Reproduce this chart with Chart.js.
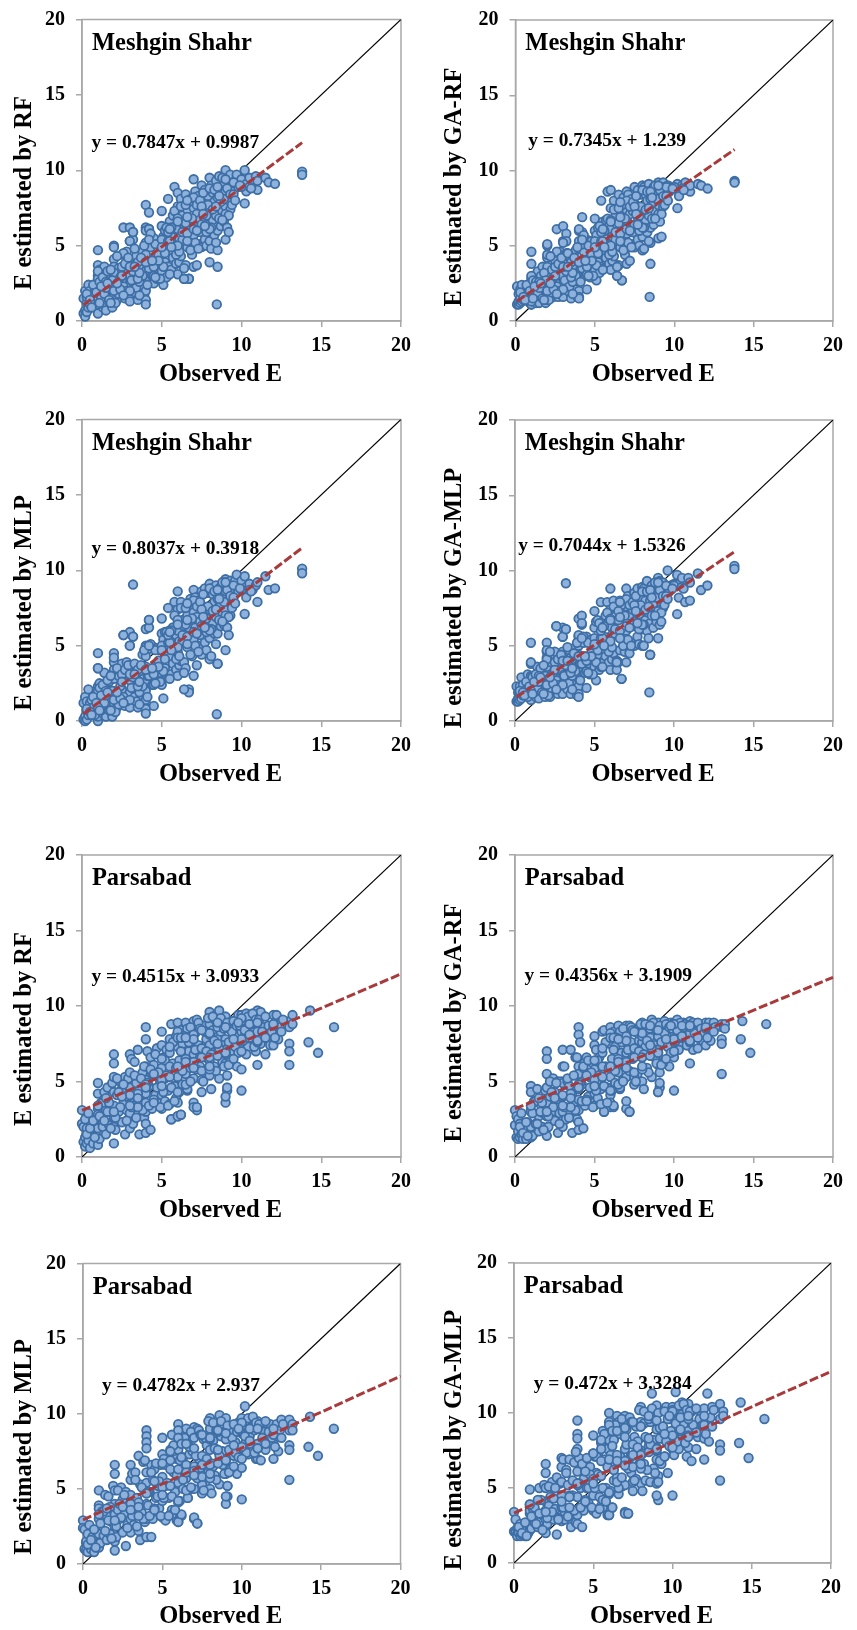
<!DOCTYPE html>
<html>
<head>
    <title>Observed vs estimated E</title>
    <script src="https://cdn.jsdelivr.net/npm/chart.js"></script>
    <style>
        html, body { margin: 0; padding: 0; background: #fff; }
        #page { position: relative; width: 857px; height: 1630px; overflow: hidden; }
        canvas { position: absolute; }
    </style>
</head>
<body>
    <div id="page"></div>

    <script>
        // observed E, same for all four panels of a station
        const observedMeshgin = [
            0.1,0.1,0.2,0.2,0.2,0.3,0.3,0.3,0.4,0.4,0.5,0.5,0.6,0.7,0.8,0.9,1,1,1,1,
            1,1,1,1,1.1,1.2,1.3,1.4,1.5,1.5,1.6,1.7,1.8,1.9,2,2,2,2,2,2,
            2,2,2.1,2.2,2.3,2.4,2.5,2.5,2.6,2.7,2.8,2.9,3,3,3,3,3,3,3,3.1,
            3.2,3.2,3.3,3.4,3.5,3.5,3.6,3.7,3.8,3.9,4,4,4,4,4,4,4,4,4,4.1,
            4.2,4.2,4.3,4.4,4.5,4.5,4.6,4.7,4.8,4.9,5,5,5,5,5.1,5.1,5.2,5.2,5.3,5.3,
            5.4,5.4,5.5,5.5,5.6,5.6,5.7,5.7,5.8,5.8,5.9,5.9,6,6,6,6,6,6.1,6.1,6.2,
            6.2,6.3,6.3,6.4,6.4,6.5,6.5,6.6,6.6,6.7,6.7,6.8,6.8,6.9,7,7,7,7,7.1,7.1,
            7.2,7.2,7.3,7.3,7.4,7.4,7.5,7.5,7.6,7.6,7.7,7.7,7.8,7.8,7.9,7.9,8,8,8,8,
            8.1,8.1,8.2,8.2,8.3,8.3,8.4,8.4,8.5,8.5,8.6,8.6,8.7,8.7,8.8,8.8,8.9,8.9,9,9,
            9,9,9.1,9.1,9.2,9.2,9.3,9.3,9.4,9.5,9.6,9.7,9.8,10,10.2,10.2,10.3,10.3,10.5,10.7,
            10.9,11,11,11.5,11.7,12.1,13.8,13.8,8.45,8.5,3.2,6.7,6.4,2.6,3,3.2,4,4.2,1,2,
            0.3,0.5,0.7,0.8,0.9,1.1,1.2,1.3,1.4,1.5,1.6,1.7,1.8,1.9,2.1,2.2,2.3,2.4,2.5,2.6,
            2.7,2.8,2.9,3.1,3.2,3.3,3.4,3.5,3.6,3.7,3.8,3.9,4.1,4.2,4.3,4.4,4.5,4.6,4.7,4.8,
            4.9,5,5.1,5.2,5.3,5.4,5.5,5.6,5.7,5.8,5.9,6,6.1,6.2,6.3,6.4,6.5,6.6,6.7,6.8,
            6.9,7,7.1,7.2,7.3,7.4,7.5,7.6,7.7,7.8,7.9,8,8.1,8.2,8.3,8.4,8.5,8.6,8.7,8.8,
            8.9,9,9.1,9.2,9.3,9.4,9.5,1,1.5,2,2.5,3,3.5,4,4.5,5,5.5,6,6.5,7,
            7.5,8,8.5,9,9.5,10,10.5,1.2,1.8,2.4,3,3.6,4.2,4.8,5.4,6,6.6,7.2,7.8,8.4,
            0.6,1.1,2.2,3.3,4.4,5.5,6.6,7.7,8.8,9.9,1.6,2.6,3.6,4.6,5.6,6.6,7.6,8.6,9.6,10.6
        ];
        const meshginRF = [
            0.5,1.5,0.3,0.7,2.0,0.6,1.2,1.6,2.4,0.9,2.0,1.1,1.6,1.3,2.2,0.8,4.7,0.6,2.4,3.7,
            3.0,1.4,2.8,0.5,3.4,2.0,0.9,3.6,0.7,2.9,1.6,3.1,2.3,0.9,5.0,4.1,3.1,2.4,1.3,1.7,
            4.9,3.6,2.2,1.4,3.5,1.8,4.4,2.7,6.2,1.5,4.6,3.4,6.2,5.3,4.1,3.0,2.4,1.6,1.3,3.7,
            5.9,2.6,1.9,4.3,3.1,1.4,3.7,2.3,4.6,1.7,7.7,6.2,5.2,4.4,3.3,2.7,2.0,1.4,1.1,3.8,
            7.2,6.1,4.9,3.0,5.5,2.5,4.2,3.4,5.1,3.7,7.3,6.3,4.3,3.3,5.6,2.4,6.0,3.9,4.8,2.9,
            8.1,3.6,6.6,4.6,5.6,3.4,7.0,4.2,8.9,5.0,6.3,3.8,8.5,7.6,6.1,4.9,3.1,5.5,3.9,8.1,
            4.3,7.0,5.4,6.1,2.8,8.4,3.7,7.4,4.9,6.4,2.8,8.1,5.6,4.4,9.4,7.5,5.7,3.6,8.6,6.4,
            7.1,3.7,8.3,5.1,6.7,5.9,9.0,4.9,7.8,6.2,8.7,5.4,7.2,5.0,8.3,6.5,9.5,7.4,5.3,3.9,
            9.0,4.8,8.5,6.7,7.9,5.7,9.3,7.0,6.0,4.7,9.6,7.7,8.8,6.3,8.2,7.3,9.2,6.6,10,8.6,
            7.6,5.4,9.4,6.2,8.0,5.9,9.7,7.4,9.0,8.6,9.3,9.7,8.9,9.4,10,7.8,9.1,8.6,9.5,9.1,
            9.6,8.7,9.3,9.5,9.2,9.1,9.9,9.7,1.1,3.6,5.4,2.8,2.8,4.5,5.3,5.9,6.0,6.1,3.3,3.2,
            1.8,1.4,2.4,1.1,1.9,2.6,1.5,2.9,1.8,2.2,3.3,1.4,3.4,2.7,1.2,4.3,1.8,2.9,3.6,2.3,
            3.8,2.0,4.2,2.7,3.3,4.8,2.2,3.9,2.6,4.2,3.0,5.0,2.4,3.5,5.8,4.0,3.0,5.1,2.8,4.4,
            2.8,5.4,3.6,4.5,6.2,5.3,3.1,6.2,5.0,7.3,4.4,6.8,4.6,7.6,5.9,3.5,6.5,5.8,7.9,4.7,
            6.8,8.2,5.2,7.7,4.8,8.0,6.4,8.5,6.9,5.9,7.7,8.8,6.2,7.4,8.7,5.2,8.2,6.8,7.9,9.5,
            8.1,7.1,8.8,7.0,8.4,7.7,9.2,1.1,2.6,2.0,3.0,3.6,2.8,3.9,3.6,4.9,5.3,5.0,7.7,6.1,
            7.6,6.1,8.9,9.4,8.4,8.9,8.9,2.3,1.2,2.1,2.0,3.2,5.4,4.0,5.9,6.6,5.3,6.0,7.0,7.6,
            0.9,1.2,2.5,3.6,4.0,6.1,8.0,6.3,6.7,9.0,2.5,1.7,1.7,2.9,4.9,6.9,7.1,8.3,8.0,8.8
        ];
        const meshginGARF = [
            1.1,2.3,1.1,1.3,1.8,1.2,1.5,2.1,2.4,1.3,1.9,1.4,1.7,1.5,2.2,1.2,4.6,1.1,2.5,3.8,
            2.8,1.5,2.2,1.1,3.0,1.8,1.2,3.3,1.2,2.7,1.7,3.6,2.4,1.2,5.0,4.2,3.2,2.5,1.4,1.9,
            5.1,3.6,2.2,1.5,3.4,1.6,4.0,2.6,6.1,1.6,4.6,3.3,6.3,5.3,4.0,3.0,2.3,1.7,1.6,3.8,
            5.8,2.7,2.0,4.3,3.1,1.5,3.6,2.2,4.7,1.6,6.0,5.3,4.8,4.0,3.2,2.6,2.0,1.6,1.5,3.5,
            6.9,5.9,4.6,3.0,5.4,2.1,4.1,3.3,5.3,3.8,6.8,6.0,4.2,3.4,5.7,2.7,6.2,3.9,4.8,3.2,
            8.0,3.6,6.6,4.5,5.5,3.5,6.7,4.2,8.6,5.0,6.3,3.8,8.7,7.5,6.1,4.9,3.4,5.6,4.0,8.0,
            4.3,7.0,5.4,6.4,3.0,8.4,3.7,7.3,4.9,6.6,2.7,8.2,5.7,4.4,8.6,7.4,5.8,3.8,8.4,6.5,
            7.1,4.0,8.1,5.1,7.3,5.9,8.9,4.9,7.7,6.2,8.7,5.4,7.2,5.0,8.4,6.5,9.0,7.4,5.6,4.7,
            8.9,4.8,8.4,6.7,8.0,5.9,9.1,7.0,6.2,5.2,8.7,7.7,8.9,6.4,8.4,7.3,9.0,6.8,9.2,8.6,
            7.7,5.5,9.0,6.6,8.2,5.6,9.2,7.6,8.9,8.7,9.0,8.6,8.9,8.8,9.1,7.5,8.8,8.3,9.0,9.2,
            8.8,8.6,9.0,9.1,9.0,8.8,9.3,9.2,1.6,3.8,5.3,2.7,3.0,4.6,5.2,4.5,6.1,5.1,3.0,4.4,
            1.9,1.6,2.4,1.4,2.0,2.7,1.6,2.6,1.9,2.2,3.0,1.5,3.2,2.7,1.4,4.3,1.9,2.9,3.6,2.3,
            3.8,2.0,4.2,2.7,3.3,4.5,2.3,3.9,2.6,4.2,3.0,4.9,2.6,3.5,5.7,4.0,3.1,5.0,2.9,4.4,
            3.0,5.3,3.7,4.5,6.3,5.3,3.4,6.0,5.0,6.8,4.4,6.7,4.6,7.4,5.9,3.6,6.5,5.8,7.7,4.7,
            6.8,8.0,5.2,7.6,4.9,7.9,6.4,8.3,6.9,6.0,7.6,8.7,6.2,7.4,8.6,5.3,8.1,6.8,7.9,9.0,
            8.1,7.1,8.7,7.1,8.3,7.7,8.9,1.3,2.6,2.0,3.0,3.6,2.9,3.9,3.6,4.9,5.3,5.0,7.5,6.1,
            7.6,6.2,8.6,9.0,8.3,8.9,8.8,2.3,1.4,2.1,2.1,3.2,5.4,4.0,5.9,6.6,5.3,6.0,7.0,7.5,
            1.4,1.5,2.5,3.6,4.0,6.1,7.9,6.4,6.8,8.8,2.5,1.8,1.8,3.0,4.9,6.9,7.1,8.2,8.0,8.7
        ];
        const meshginMLP = [
            0.1,1.2,0,0.3,1.6,0.1,0.7,1.3,2.1,0.4,1.2,0.6,1.4,0.9,1.7,0.5,4.5,0,1.8,3.5,
            2.3,1.0,2.0,0.3,2.5,1.3,0.5,3.2,0.3,2.3,0.9,2.6,1.7,0.3,4.5,3.9,2.8,2.0,0.8,1.2,
            4.2,3.2,1.6,0.9,3.0,1.3,3.8,2.1,5.7,1.0,3.9,2.9,5.9,5.0,3.7,2.7,1.9,1.2,0.9,3.2,
            5.6,2.2,1.6,3.6,2.7,0.9,3.3,1.7,4.4,1.2,6.1,5.0,4.3,3.6,2.6,2.0,1.4,0.8,0.5,3.0,
            6.7,6.2,4.8,2.4,4.9,1.0,3.6,2.9,4.7,3.2,6.8,5.8,4.0,2.4,5.4,1.5,5.9,3.5,4.5,2.9,
            7.5,3.0,6.0,4.2,5.5,3.1,6.2,3.8,7.9,4.8,5.7,3.4,8.6,7.4,6.0,4.6,3.0,5.3,3.7,7.9,
            4.0,6.7,5.3,6.3,3.9,7.6,3.5,7.0,4.9,6.2,2.1,8.1,5.6,4.3,8.7,7.2,5.4,3.0,8.2,6.2,
            6.9,3.7,8.0,5.0,6.6,5.7,8.6,4.4,7.6,6.1,8.8,5.2,7.1,4.7,8.5,6.3,9.1,7.4,5.5,4.1,
            8.8,4.3,8.4,6.5,7.9,5.8,9.0,6.9,5.8,3.8,8.8,7.6,8.9,6.3,8.2,7.2,9.2,6.4,9.4,8.6,
            7.4,4.7,9.0,6.2,7.9,5.7,9.3,7.0,8.6,7.9,9.3,9.7,8.6,9.3,9.6,7.1,8.9,8.2,9.1,8.7,
            9.0,7.9,9.2,9.6,8.7,8.8,10.1,9.8,0.45,3.8,9.05,1.9,2.1,5.7,5.0,5.6,4.9,6.7,3.5,3.4,
            0.8,0.6,1.6,0.4,1.2,2.2,0.7,2.4,1.2,1.7,2.7,0.7,3.0,2.0,0.6,3.5,1.1,2.3,3.1,1.6,
            3.4,1.3,3.7,2.2,2.9,3.8,1.3,3.4,1.9,3.7,2.3,4.7,1.6,3.0,5.1,3.3,2.4,4.7,2.6,4.0,
            2.6,5.0,3.3,4.1,5.9,5.2,2.8,6.0,4.7,7.0,4.1,6.7,4.3,7.5,5.7,3.2,6.4,5.6,7.8,4.4,
            6.8,8.0,5.0,7.6,4.6,7.9,6.3,8.4,6.8,5.9,7.6,8.8,6.1,7.3,8.6,5.1,8.1,6.7,7.8,9.2,
            7.9,7.0,8.7,6.9,8.3,7.5,9.0,0.9,2.0,1.4,2.6,3.1,2.3,3.4,3.1,4.7,5.2,4.9,7.5,5.9,
            7.4,6.0,8.7,9.2,8.2,8.7,8.7,1.7,0.7,1.5,1.4,2.6,5.0,3.6,5.7,6.4,5.1,5.8,6.8,7.4,
            0.4,0.7,1.9,3.1,3.5,5.9,7.8,6.2,6.6,8.8,1.9,1.2,1.1,2.5,4.7,6.7,6.9,8.1,7.8,8.6
        ];
        const meshginGAMLP = [
            1.3,2.3,1.3,1.5,1.9,1.4,1.8,2.3,2.9,1.5,2.4,1.7,2.0,1.8,3.1,1.6,5.2,1.5,2.7,3.8,
            3.0,1.8,2.6,1.4,3.0,2.0,1.6,3.6,1.5,3.0,2.0,3.5,2.4,1.6,5.2,4.6,3.6,2.8,1.8,2.2,
            4.7,4.2,2.4,1.6,3.9,2.3,4.6,3.0,6.3,1.8,3.9,3.4,6.2,5.6,4.6,3.3,2.5,2.1,1.8,3.1,
            6.1,3.0,2.1,4.7,3.5,1.8,4.1,2.6,4.9,1.7,6.8,5.6,5.0,4.4,3.5,2.8,2.3,1.8,1.6,3.8,
            7.0,6.4,5.2,3.2,5.6,2.2,4.3,3.5,5.4,4.0,7.3,6.2,4.9,3.6,6.6,2.7,6.7,4.4,5.5,3.4,
            7.9,3.6,6.6,4.8,5.6,3.9,7.0,4.3,7.9,5.1,6.6,3.9,8.8,7.4,6.3,5.0,3.4,5.7,4.1,8.0,
            4.5,7.5,5.8,6.7,4.0,7.3,3.9,8.0,4.7,6.9,2.8,7.4,5.8,4.6,8.8,7.6,6.0,3.9,8.3,6.6,
            7.0,4.5,7.9,5.2,7.4,6.3,8.5,5.0,7.8,6.4,8.8,5.6,7.4,5.1,8.2,6.6,8.9,7.6,6.1,5.0,
            8.8,5.0,8.0,6.7,9.3,6.0,8.5,7.2,6.5,4.4,9.0,7.9,8.7,6.2,8.5,7.1,9.2,6.6,9.5,8.4,
            7.9,5.5,9.3,6.4,8.8,6.6,9.2,7.5,8.8,8.2,10,8.6,9.0,9.1,9.7,7.1,9.1,8.2,9.5,7.9,
            9.5,8.0,9.2,9.8,8.7,9.0,10.3,10.1,1.9,4.4,9.15,2.8,3.4,6.3,5.6,6.1,5.7,6.5,3.9,4.1,
            2.0,1.9,2.6,1.6,2.3,2.9,1.9,3.1,2.2,2.6,3.5,1.9,3.7,3.0,1.7,4.6,2.2,3.2,3.9,2.7,
            4.1,2.4,4.4,3.0,3.7,4.9,2.5,4.2,3.0,4.5,3.3,5.2,2.7,3.8,5.6,4.2,3.3,5.2,3.1,4.5,
            3.1,5.5,3.9,4.7,6.5,5.5,3.6,6.3,5.2,7.2,4.6,6.8,4.9,7.6,6.1,3.9,6.7,6.0,7.7,5.0,
            7.0,8.1,5.4,7.7,5.0,7.9,6.6,8.3,7.1,6.1,7.7,8.6,6.4,7.4,8.6,5.5,8.0,7.0,7.8,9.2,
            8.2,7.3,8.7,7.2,8.3,7.7,9.0,2.0,3.0,2.4,3.4,4.0,3.2,4.3,4.0,5.1,5.5,5.3,7.3,6.3,
            7.7,6.4,8.7,9.2,8.3,9.0,8.9,2.6,1.8,2.5,2.4,3.5,5.5,4.3,6.0,6.7,5.5,6.2,7.1,7.6,
            1.7,1.8,2.9,4.0,4.3,6.2,7.9,6.5,7.0,8.8,2.9,2.1,2.1,3.2,5.0,6.9,7.3,8.2,8.1,8.8
        ];

        const observedParsabad = [
            0,0,0.1,0.1,0.2,0.2,0.2,0.3,0.3,0.4,0.4,0.5,0.6,0.7,0.8,0.9,1,1,1,1,
            1,1,1.1,1.2,1.3,1.4,1.5,1.5,1.6,1.7,1.8,1.9,2,2,2,2,2,2,2,2,
            2.1,2.2,2.3,2.4,2.5,2.5,2.6,2.7,2.7,2.8,2.9,3,3,3,3,3,3,3,3.1,3.2,
            3.2,3.3,3.4,3.5,3.5,3.6,3.6,3.7,3.8,3.9,4,4,4,4,4,4,4,4,4,4.1,
            4.2,4.3,4.3,4.4,4.4,4.5,4.6,4.7,4.8,4.9,5,5,5,5,5,5.1,5.2,5.2,5.3,5.4,
            5.5,5.5,5.6,5.6,5.7,5.8,5.9,5.9,6,6,6,6,6,6.1,6.2,6.2,6.3,6.3,6.4,6.5,
            6.5,6.6,6.6,6.7,6.8,6.9,7,7,7,7,7.1,7.2,7.2,7.3,7.4,7.5,7.6,7.7,7.8,7.9,
            8,8,8,8,8.1,8.2,8.2,8.3,8.4,8.5,8.6,8.6,8.7,8.8,8.9,9,9,9,9,9.1,
            9.1,9.2,9.3,9.4,9.5,9.6,9.7,9.8,9.9,10,10,10,10,10.1,10.2,10.2,10.3,10.4,10.5,10.6,
            10.7,10.8,10.9,11,11,11,11.2,11.2,11.4,11.5,11.6,11.8,12,12,12,12.1,12.2,12.3,12.5,13,
            13,13,13,13,13.2,13.2,14.2,14.3,14.8,15.8,8,7.5,7,7.2,5.6,6,6.2,9.1,9,8.9,
            0.3,0.5,0.7,0.8,1.1,1.3,1.4,1.6,1.7,1.8,2.1,2.2,2.3,2.4,2.6,2.8,2.9,3.1,3.3,3.4,
            3.5,3.7,3.8,3.9,4.1,4.2,4.3,4.5,4.6,4.7,4.8,4.9,5.1,5.2,5.3,5.4,5.5,5.6,5.7,5.8,
            5.9,6,6.1,6.2,6.3,6.4,6.5,6.6,6.7,6.8,6.9,7,7.1,7.2,7.3,7.4,7.5,7.6,7.7,7.8,
            7.9,8,8.1,8.2,8.3,8.4,8.5,8.6,8.7,8.8,8.9,9,9.1,9.2,9.3,9.4,9.5,9.6,9.7,9.8,
            9.9,10,10.1,10.2,10.3,10.4,10.5,10.6,10.7,10.8,10.9,11,11.1,11.3,11.5,11.7,11.9,12.1,12.4,12.6,
            1,2,3,4,5,6,7,8,9,10,11,12,1.5,2.5,3.5,4.5,5.5,6.5,7.5,8.5,
            5,5.5,6,6.5,7,7.5,8,8.5,9,9.5,10,10.5,11,6.2,6.8,7.4,8,8.6,9.2,9.8,
            3,3.5,4,4.5,5,5.5,6,6.5,7,7.5,8,8.5,9,9.5,10,10.5,11,11.5,12,12.5
        ];
        const parsabadRF = [
            3.1,2.2,1.0,2.0,2.5,0.7,1.3,1.9,0.9,1.1,2.9,0.6,1.7,0.9,2.4,1.4,4.9,0.8,3.2,1.9,
            4.2,2.8,1.2,3.6,2.0,4.3,1.5,3.1,4.6,2.1,3.0,4.9,6.8,6.2,5.3,4.3,3.4,2.6,2.0,0.9,
            1.8,4.1,3.0,5.0,2.3,4.5,3.6,1.5,5.3,3.1,5.2,6.8,5.6,4.6,3.8,2.9,2.3,1.9,6.5,3.4,
            2.2,6.3,4.9,7.1,2.8,4.4,1.5,3.5,5.6,2.6,8.6,7.8,6.0,5.1,4.2,3.6,3.0,2.2,1.6,7.0,
            4.7,6.6,1.8,5.5,3.2,6.1,4.1,7.2,3.7,5.0,8.3,7.4,5.9,4.1,3.2,6.6,5.2,3.7,7.1,4.4,
            7.8,3.5,8.8,2.5,6.2,4.7,8.0,3.9,8.9,7.3,5.3,3.6,2.7,6.4,8.4,2.8,4.8,7.5,6.0,8.9,
            5.5,8.5,4.4,7.0,5.9,7.6,9.0,6.8,5.2,3.6,8.2,9.1,3.1,7.4,6.0,4.3,8.7,5.5,7.8,6.5,
            9.6,8.8,7.4,5.4,4.5,6.9,8.4,6.0,9.0,7.8,9.7,5.2,8.3,6.3,7.3,9.3,7.8,6.2,3.6,4.4,
            5.4,8.5,6.6,9.0,7.0,8.1,6.0,9.4,7.6,9.4,8.3,5.8,4.4,7.2,9.1,8.0,9.5,7.3,8.6,9.2,
            7.9,8.6,7.0,9.7,8.3,6.1,9.6,7.5,8.6,6.8,8.0,7.4,9.4,8.1,7.4,8.9,9.4,7.8,9.0,9.0,
            8.6,7.5,7.0,6.1,9.4,8.8,7.6,9.7,6.9,8.6,6.4,5.1,3.3,3.3,2.5,2.7,2.8,4.6,4.0,6.0,
            1.5,1.9,2.4,1.3,2.7,3.6,2.4,3.0,3.6,1.9,2.6,5.2,4.3,3.3,4.8,2.4,4.0,3.3,5.4,2.6,
            4.2,5.2,3.1,6.0,4.9,3.4,5.8,3.8,6.8,4.6,5.6,3.3,4.3,6.4,5.4,3.4,6.0,4.6,7.6,3.7,
            5.9,8.3,4.3,7.0,5.7,8.0,6.5,4.5,7.6,8.6,6.1,8.1,7.1,5.8,8.9,6.6,7.2,5.0,8.3,7.0,
            9.2,8.1,6.8,9.3,7.7,5.7,8.6,6.9,9.2,7.4,8.5,6.9,8.9,7.6,6.3,8.3,9.0,7.3,8.7,6.9,
            8.7,9.0,7.7,8.4,6.8,9.3,7.9,8.8,9.5,7.3,9.1,7.6,9.1,8.3,9.3,8.7,8.3,7.9,8.6,9.1,
            3.4,3.0,4.1,4.8,5.1,6.0,6.3,6.6,7.1,7.8,8.9,8.7,3.9,4.0,3.3,3.6,6.9,6.3,6.6,6.7,
            6.5,5.3,7.9,4.8,7.8,5.7,8.2,8.9,8.6,7.8,9.2,8.1,7.7,7.9,5.0,8.5,5.8,7.2,6.1,8.9,
            3.4,3.9,4.6,5.5,4.7,7.3,4.3,7.9,5.9,8.4,6.0,7.5,6.9,6.5,7.0,8.8,8.9,7.9,8.8,8.3
        ];
        const parsabadGARF = [
            3.1,2.1,1.3,2.7,2.5,1.2,1.7,2.2,1.3,1.5,2.9,1.2,1.9,1.2,2.3,1.4,4.7,1.3,3.1,2.0,
            4.3,3.0,1.4,3.7,2.2,4.5,1.7,2.7,3.5,2.0,2.9,4.4,7.0,6.5,5.5,4.6,3.6,2.7,1.9,1.4,
            2.0,4.0,3.0,5.2,2.4,4.3,3.8,1.6,5.0,2.9,5.0,7.1,6.0,4.9,4.0,3.0,2.4,2.0,6.0,3.3,
            2.5,5.0,4.7,7.1,2.9,4.2,1.6,3.6,6.6,2.5,8.6,8.1,6.0,5.5,4.5,3.8,3.1,2.3,1.8,7.6,
            4.8,5.9,1.9,6.3,3.4,6.6,4.0,5.3,3.6,6.2,8.0,7.4,5.8,4.2,3.4,7.1,5.1,3.9,6.6,4.5,
            8.3,3.5,8.4,3.0,6.0,4.6,7.6,3.6,8.6,7.5,5.3,4.1,3.3,6.5,8.3,3.3,4.9,7.3,6.0,8.7,
            5.6,8.3,4.5,6.9,5.1,7.8,8.7,6.9,5.3,3.2,8.2,8.7,3.0,7.6,6.5,4.8,8.5,5.5,7.7,6.9,
            8.9,8.6,7.6,5.0,4.5,7.3,8.3,5.9,8.7,7.9,9.1,5.3,8.5,6.6,7.6,8.9,8.0,6.1,4.3,4.6,
            5.6,8.5,6.3,9.0,7.5,8.2,6.0,8.9,7.3,8.9,8.3,6.6,4.4,7.1,9.1,8.0,8.8,7.4,8.5,8.9,
            8.0,8.6,7.4,9.0,8.2,6.2,8.9,7.1,8.6,7.2,8.1,7.7,8.9,8.2,7.4,8.6,8.9,7.7,8.9,8.8,
            8.6,7.8,7.5,5.5,8.8,8.5,7.8,9.0,6.9,8.8,6.6,5.3,3.7,3.0,3.0,3.6,3.4,4.9,4.3,6.2,
            2.0,1.6,2.3,1.4,2.9,3.7,2.2,3.0,3.6,1.8,2.7,5.0,4.3,3.3,4.9,2.2,4.0,3.3,5.2,2.6,
            4.2,5.4,3.1,6.6,4.9,3.7,6.0,3.8,6.4,4.6,5.6,3.3,4.4,6.4,5.4,3.5,6.0,4.7,7.6,3.6,
            5.9,8.2,4.4,7.1,5.7,7.9,6.5,4.6,7.6,8.5,6.1,8.0,7.1,5.7,8.6,6.6,7.2,5.0,8.2,7.0,
            8.8,8.0,6.8,8.8,7.7,5.6,8.5,6.9,8.9,7.4,8.4,6.9,8.7,7.6,6.2,8.2,8.8,7.3,8.6,6.9,
            8.5,8.8,7.7,8.4,7.1,8.9,7.9,8.6,8.8,7.4,8.7,7.6,8.7,8.2,8.9,8.5,8.2,7.9,8.5,8.6,
            3.4,3.0,4.1,4.8,5.1,6.0,6.3,6.6,7.1,7.8,8.6,8.5,3.9,3.9,3.3,3.7,6.9,6.3,6.6,6.7,
            6.4,5.3,7.9,4.8,7.7,5.6,8.2,8.7,8.4,7.8,8.8,8.0,7.7,7.9,5.0,8.4,5.8,7.2,6.1,8.7,
            3.4,3.9,4.6,5.4,4.7,7.2,4.4,7.8,5.9,8.3,6.0,7.4,6.9,6.5,7.0,8.7,8.7,7.9,8.6,8.3
        ];
        const parsabadMLP = [
            2.9,2.4,1.0,2.3,1.4,0.9,1.5,2.0,0.8,1.2,2.6,1.0,1.8,0.8,2.2,1.3,4.9,1.1,3.0,3.9,
            3.7,2.0,1.4,3.5,1.9,4.6,1.6,3.2,4.5,2.0,2.8,5.2,6.6,6.0,4.9,4.0,3.3,2.5,1.5,0.9,
            1.8,3.6,3.0,5.1,2.1,4.3,3.3,1.2,4.8,2.6,3.9,6.6,5.6,4.6,3.6,3.0,2.4,2.1,6.0,3.2,
            2.6,6.1,4.4,7.2,2.2,5.3,1.6,3.4,6.8,2.8,8.9,8.5,8.1,7.7,6.1,5.4,4.0,3.0,1.8,3.9,
            4.8,6.6,1.8,5.6,3.0,6.3,4.4,5.2,3.7,6.6,8.4,7.3,5.8,4.2,3.1,7.0,5.2,2.9,6.7,4.4,
            7.6,3.3,8.6,3.6,6.1,4.8,7.0,2.9,9.3,7.6,5.4,4.1,2.8,6.9,8.2,3.2,5.0,7.1,6.2,9.0,
            5.7,8.2,4.4,7.3,5.0,7.5,9.1,6.5,5.0,3.0,8.6,9.0,2.7,7.0,6.1,4.7,8.3,5.4,7.9,6.5,
            9.7,9.0,7.6,5.0,4.7,6.5,8.2,5.9,8.9,7.5,9.9,5.3,8.5,6.6,7.2,9.7,8.3,6.0,4.0,4.5,
            5.2,9.2,6.4,8.8,7.2,8.1,6.0,9.4,7.4,9.7,8.7,6.4,4.3,7.6,10.5,8.0,9.0,7.3,8.5,9.6,
            7.6,8.9,7.0,9.5,8.0,7.0,9.3,6.9,8.8,7.6,8.2,9.3,9.0,8.0,7.0,8.9,9.3,7.5,9.6,9.6,
            8.9,7.9,7.6,5.6,9.3,8.9,7.8,9.8,7.2,9.0,6.6,5.3,3.1,2.7,3.3,2.8,3.3,5.2,4.5,6.0,
            1.3,1.6,2.3,1.1,2.7,3.5,2.2,2.9,3.8,1.7,2.5,4.9,4.0,3.1,4.6,2.4,3.9,3.2,5.6,2.5,
            4.1,5.1,3.0,6.9,4.8,3.2,6.1,3.7,6.7,4.5,5.5,3.2,4.4,6.6,5.4,3.2,6.3,4.5,7.9,3.6,
            5.9,8.9,4.2,7.1,5.6,8.4,6.6,4.4,7.8,8.8,6.0,8.4,7.2,5.7,8.9,6.4,7.2,4.9,8.4,7.0,
            9.5,8.3,6.7,9.4,7.7,5.6,8.8,6.9,9.5,7.5,8.8,6.9,9.2,7.6,6.3,8.4,9.3,7.4,8.8,7.1,
            8.9,9.2,7.7,8.5,7.4,9.7,8.0,9.1,9.8,7.4,9.4,7.7,9.3,8.4,9.5,8.8,8.4,7.8,8.9,9.3,
            3.3,2.9,4.0,4.7,5.1,6.3,6.2,6.6,7.0,7.8,9.0,8.6,3.7,3.8,3.2,3.6,6.9,6.1,6.6,6.7,
            6.7,5.2,8.4,4.9,7.7,5.8,8.4,8.9,8.7,7.9,9.4,8.2,7.7,8.0,5.1,8.6,5.7,7.2,6.1,9.0,
            3.6,3.8,4.7,5.5,4.6,7.5,4.2,8.0,5.9,8.6,6.0,7.6,6.9,6.5,7.0,9.0,9.0,8.0,9.0,8.4
        ];
        const parsabadGAMLP = [
            3.4,2.1,2.1,2.9,2.3,1.9,1.8,2.3,2.0,1.8,2.6,1.9,2.2,1.8,2.4,2.0,4.9,2.2,3.3,3.9,
            3.5,2.5,2.3,3.6,2.7,3.1,2.4,3.3,5.0,2.8,3.2,5.2,6.6,6.0,5.0,4.1,3.5,2.9,2.4,2.0,
            2.6,3.8,3.2,5.4,2.9,5.0,3.6,1.9,5.7,3.0,5.3,7.0,6.4,5.4,4.5,3.7,3.0,2.8,6.9,3.4,
            2.9,6.2,5.2,6.9,3.1,3.6,2.4,4.5,6.7,2.7,9.5,8.6,8.3,7.6,6.1,5.3,4.4,3.2,2.6,7.0,
            5.0,6.6,2.4,5.6,3.5,6.2,5.0,4.0,6.4,5.0,8.5,7.3,5.6,4.5,3.5,7.1,6.0,3.3,7.3,4.4,
            8.0,3.8,8.8,4.2,6.9,5.0,7.6,3.2,10,8.2,6.5,4.6,3.2,7.2,8.9,3.7,5.5,8.2,6.6,9.8,
            5.7,9.4,4.6,7.1,5.1,8.5,9.8,7.6,5.2,3.4,8.9,9.4,3.3,7.0,6.0,4.8,8.4,5.6,8.1,6.6,
            10.4,9.4,7.5,5.3,4.8,6.6,9.3,5.5,8.3,7.8,9.4,5.4,11.3,6.3,7.8,10.5,8.9,6.9,5.3,4.2,
            5.8,9.0,6.6,8.3,7.1,10.4,6.0,9.6,8.8,10.4,9.7,7.6,4.5,7.2,11.4,8.2,10,7.6,9.4,10.7,
            9.2,8.3,7.1,10.6,8.8,7.7,10.1,6.8,9.1,7.6,8.4,9.8,10.3,8.3,6.9,9.3,11.3,8.1,10.4,9.6,
            10.6,7.9,7.5,5.5,10.1,9.8,8.0,10.7,7.0,9.6,6.4,5.4,3.3,3.3,3.7,3.2,3.7,5.4,4.5,6.0,
            2.4,2.0,2.7,1.8,3.1,3.7,2.6,3.3,4.2,2.2,3.0,5.1,4.4,3.4,5.0,2.9,4.3,3.7,6.0,3.1,
            4.5,5.5,3.5,7.4,5.3,3.7,6.6,4.2,7.0,5.0,5.9,3.7,5.0,7.1,5.9,3.6,6.8,5.0,8.6,4.1,
            6.4,9.4,4.8,7.8,6.2,9.2,7.2,5.0,8.6,9.6,6.7,9.0,7.9,6.3,9.7,7.1,7.9,5.5,9.1,7.7,
            10.2,9.1,7.3,10.1,8.4,6.2,9.6,7.5,10.3,8.2,9.6,7.5,10,8.3,7.0,9.1,10.1,8.1,9.6,7.8,
            9.9,10.2,8.4,9.3,8.1,10.5,8.8,9.9,10.6,8.0,10.2,8.5,10.1,9.2,10.3,9.6,9.2,8.6,9.7,10.2,
            3.9,3.4,4.5,5.2,5.6,6.9,6.8,7.2,7.7,8.5,9.6,9.2,4.2,4.3,3.7,4.1,7.6,6.8,7.2,7.4,
            7.3,5.8,9.2,5.4,8.4,6.4,9.1,9.8,9.5,8.6,10.1,8.9,8.4,8.8,5.7,9.4,6.3,7.9,6.8,9.8,
            4.1,4.4,5.3,6.1,5.3,8.2,4.7,8.8,6.5,9.4,6.6,8.3,7.6,7.1,7.7,9.7,9.8,8.7,9.8,9.1
        ];

        const tickLabels = [0, 5, 10, 15, 20];
        const oneToOneX = [0, 20];
        const oneToOneY = [0, 20];
        const trendXMeshgin = [0.1, 13.8];
        const trendXParsabad = [0, 20];

        // panel table: text, data and where the plot box sits on the page
        const panels = [
            { station: 'Meshgin Shahr', yLabel: 'E estimated by RF', eq: 'y = 0.7847x + 0.9987', x: observedMeshgin, y: meshginRF,
              trendX: trendXMeshgin, trendY: [1.08, 11.83], box: [82, 19.5, 401, 321], eqAt: [0.6, 11.5], yMid: 193, xBase: 381 },
            { station: 'Meshgin Shahr', yLabel: 'E estimated by GA-RF', eq: 'y = 0.7345x + 1.239', x: observedMeshgin, y: meshginGARF,
              trendX: trendXMeshgin, trendY: [1.31, 11.4], box: [515.5, 20, 833, 321], eqAt: [0.8, 11.6], yMid: 187, xBase: 381 },
            { station: 'Meshgin Shahr', yLabel: 'E estimated by MLP', eq: 'y = 0.8037x + 0.3918', x: observedMeshgin, y: meshginMLP,
              trendX: trendXMeshgin, trendY: [0.47, 11.48], box: [82, 419.5, 401, 721], eqAt: [0.6, 11.1], yMid: 603, xBase: 781 },
            { station: 'Meshgin Shahr', yLabel: 'E estimated by GA-MLP', eq: 'y = 0.7044x + 1.5326', x: observedMeshgin, y: meshginGAMLP,
              trendX: trendXMeshgin, trendY: [1.6, 11.25], box: [515, 420, 833, 721], eqAt: [0.2, 11.3], yMid: 598, xBase: 781 },
            { station: 'Parsabad', yLabel: 'E estimated by RF', eq: 'y = 0.4515x + 3.0933', x: observedParsabad, y: parsabadRF,
              trendX: trendXParsabad, trendY: [3.09, 12.12], box: [82, 855, 401, 1157], eqAt: [0.6, 11.6], yMid: 1029, xBase: 1217 },
            { station: 'Parsabad', yLabel: 'E estimated by GA-RF', eq: 'y = 0.4356x + 3.1909', x: observedParsabad, y: parsabadGARF,
              trendX: trendXParsabad, trendY: [3.19, 11.9], box: [515, 855, 833, 1157], eqAt: [0.6, 11.65], yMid: 1023, xBase: 1217 },
            { station: 'Parsabad', yLabel: 'E estimated by MLP', eq: 'y = 0.4782x + 2.937', x: observedParsabad, y: parsabadMLP,
              trendX: trendXParsabad, trendY: [2.94, 12.5], box: [83, 1263.5, 400.5, 1564], eqAt: [1.2, 11.5], yMid: 1447, xBase: 1623 },
            { station: 'Parsabad', yLabel: 'E estimated by GA-MLP', eq: 'y = 0.472x + 3.3284', x: observedParsabad, y: parsabadGAMLP,
              trendX: trendXParsabad, trendY: [3.33, 12.77], box: [514, 1263, 831, 1563], eqAt: [1.25, 11.6], yMid: 1440, xBase: 1623 }
        ];

        const serif = '"Liberation Serif", "Times New Roman", serif';
        const frameColor = '#a8a8a8';

        function toXY(xs, ys) {
            return xs.map((x, i) => ({ x: x, y: ys[i] }));
        }

        // frame, station name, equation and the two off-centre axis titles
        const panelText = {
            id: 'panelText',
            beforeDatasetsDraw(chart) {
                const a = chart.chartArea;
                const ctx = chart.ctx;
                ctx.save();
                ctx.strokeStyle = frameColor;
                ctx.lineWidth = 1.5;
                ctx.strokeRect(a.left, a.top, a.right - a.left, a.bottom - a.top);
                ctx.restore();
            },
            afterDraw(chart, args, opts) {
                const p = opts.panel;
                const ctx = chart.ctx;
                ctx.save();
                ctx.fillStyle = '#000';
                ctx.textBaseline = 'alphabetic';

                ctx.textAlign = 'left';
                ctx.font = 'bold 24.5px ' + serif;
                ctx.fillText(p.station, chart.scales.x.getPixelForValue(0.62), chart.scales.y.getPixelForValue(18));

                ctx.font = 'bold 19.4px ' + serif;
                ctx.fillText(p.eq, chart.scales.x.getPixelForValue(p.eqAt[0]), chart.scales.y.getPixelForValue(p.eqAt[1]));

                ctx.textAlign = 'center';
                ctx.font = 'bold 24.5px ' + serif;
                ctx.fillText('Observed E', (chart.chartArea.left + chart.chartArea.right) / 2 - 21, p.xBase - opts.top);

                ctx.translate(31, p.yMid - opts.top);
                ctx.rotate(-Math.PI / 2);
                ctx.fillText(p.yLabel, 0, 0);
                ctx.restore();
            }
        };

        const page = document.getElementById('page');

        panels.forEach(p => {
            const left = p.box[0] < 430 ? 0 : 430;
            // the y scale keeps 24px above the plot for its top label, so start the canvas higher than that
            const top = Math.round(p.box[1]) - 30;
            const width = left === 0 ? 430 : 427;
            const height = p.box[3] - top + 72;

            const canvas = document.createElement('canvas');
            canvas.width = width;
            canvas.height = height;
            canvas.style.left = left + 'px';
            canvas.style.top = top + 'px';
            page.appendChild(canvas);

            new Chart(canvas.getContext('2d'), {
                type: 'scatter',
                data: {
                    datasets: [
                        {
                            label: 'Trend',
                            type: 'line',
                            data: toXY(p.trendX, p.trendY),
                            borderColor: '#a83a3c',
                            borderWidth: 3,
                            borderDash: [9, 3],
                            pointRadius: 0,
                            clip: false,
                            order: 0
                        },
                        {
                            label: 'Estimated',
                            data: toXY(p.x, p.y),
                            backgroundColor: '#8fb2dc',
                            borderColor: '#3d6ea5',
                            borderWidth: 1.8,
                            pointRadius: 4.3,
                            clip: false,
                            order: 1
                        },
                        {
                            label: '1:1',
                            type: 'line',
                            data: toXY(oneToOneX, oneToOneY),
                            borderColor: '#000',
                            borderWidth: 1.2,
                            pointRadius: 0,
                            order: 2
                        }
                    ]
                },
                options: {
                    responsive: false,
                    animation: false,
                    layout: {
                        padding: { left: 0, top: p.box[1] - top, right: left + width - p.box[2], bottom: 0 }
                    },
                    scales: {
                        x: {
                            type: 'linear',
                            min: 0,
                            max: 20,
                            afterFit(scale) { scale.height = top + height - p.box[3]; },
                            afterBuildTicks(scale) { scale.ticks = tickLabels.map(v => ({ value: v })); },
                            grid: { drawOnChartArea: false, color: frameColor, tickLength: 6, lineWidth: 1.5 },
                            border: { color: frameColor, width: 1.5 },
                            ticks: {
                                color: '#000',
                                maxRotation: 0,
                                autoSkip: false,
                                padding: 7,
                                font: { family: serif, size: 20, weight: 'bold' }
                            }
                        },
                        y: {
                            type: 'linear',
                            min: 0,
                            max: 20,
                            afterFit(scale) { scale.width = p.box[0] - left; },
                            afterBuildTicks(scale) { scale.ticks = tickLabels.map(v => ({ value: v })); },
                            grid: { drawOnChartArea: false, color: frameColor, tickLength: 6, lineWidth: 1.5 },
                            border: { color: frameColor, width: 1.5 },
                            ticks: {
                                color: '#000',
                                autoSkip: false,
                                padding: 11,
                                font: { family: serif, size: 20, weight: 'bold' }
                            }
                        }
                    },
                    plugins: {
                        legend: { display: false },
                        tooltip: { enabled: false },
                        panelText: { panel: p, top: top }
                    }
                },
                plugins: [panelText]
            });
        });
    </script>
</body>
</html>
